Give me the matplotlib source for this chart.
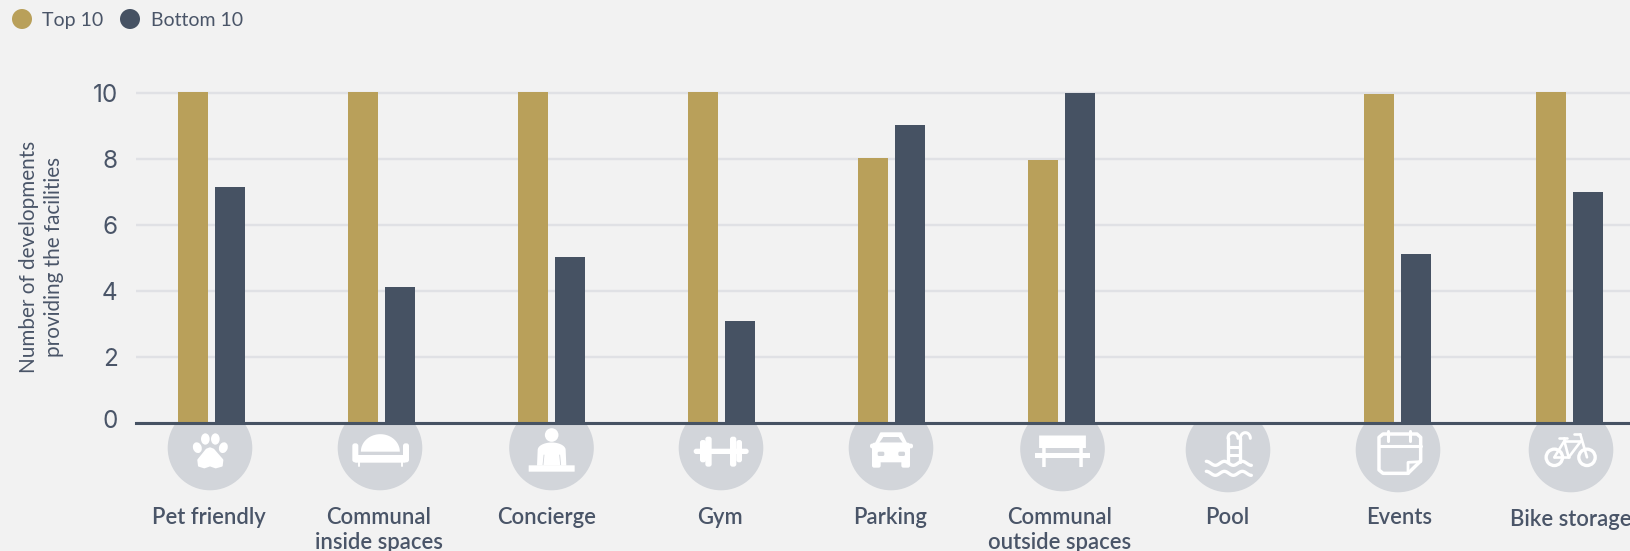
import numpy as np
import matplotlib
matplotlib.use('Agg')
import matplotlib.pyplot as plt
from matplotlib.patches import Circle, Ellipse, FancyBboxPatch, Polygon
from matplotlib.transforms import ScaledTranslation

# Dados do grafico
categorias = ['Pet friendly', 'Communal\ninside spaces', 'Concierge', 'Gym', 'Parking',
              'Communal\noutside spaces', 'Pool', 'Events', 'Bike storage']
top_10 = [10.03, 10.03, 10.03, 10.03, 8.02, 7.96, 0, 9.96, 10.03]
bottom_10 = [7.16, 4.12, 5.02, 3.08, 9.03, 10.0, 0, 5.1, 7.0]
y_ticks = [0, 2, 4, 6, 8, 10]
series_nomes = ['Top 10', 'Bottom 10']

BG = '#f2f2f2'
GOLD = '#b9a05a'
DARK = '#465263'
TXT = '#4a5568'
GRID = '#e0e1e5'
DISCO = '#d2d5da'
W, H = 1631, 551

# posicoes em pixels da referencia
centro_grupo = [211.5, 381.5, 551.5, 722, 891.8, 1061.8, 1231, 1397.8, 1569.8]
centro_disco = [(210, 448), (380, 448), (551.5, 448), (721, 448), (891, 448),
                (1062.5, 449), (1228, 450), (1398, 450), (1571, 450)]
centro_texto = [209, 378.6, 546.6, 719.6, 889.6, 1060, 1227, 1399, 1570.7]
y_texto = [517, 517, 517, 517, 517, 517, 517, 517, 519]

plt.rcParams['font.family'] = ['Lato', 'DejaVu Sans']
fig = plt.figure(figsize=(W / 100, H / 100), dpi=100, facecolor=BG)

# eixo de fundo em pixels (discos, icones, textos)
fundo = fig.add_axes([0, 0, 1, 1], zorder=1)
fundo.set_xlim(0, W)
fundo.set_ylim(H, 0)
fundo.axis('off')

# eixo principal, opaco para cortar o topo dos discos
y0_px, y10_px = 422.5, 93.0
esq_px = 135.7
ymax = 10.6
px_por_unidade = (y0_px - y10_px) / 10
topo_px = y0_px - ymax * px_por_unidade
ax = fig.add_axes([esq_px / W, 1 - y0_px / H, 1 - esq_px / W, (y0_px - topo_px) / H], zorder=2)
ax.set_facecolor(BG)
ax.set_xlim(esq_px, W)
ax.set_ylim(0, ymax)

larg = 30
desl = 18.5
x = np.array(centro_grupo)
ax.bar(x - desl, top_10, larg, color=GOLD, zorder=3)
ax.bar(x + desl, bottom_10, larg, color=DARK, zorder=3)

ax.set_yticks(y_ticks)
ax.set_yticklabels([str(v) for v in y_ticks], fontsize=17.5, color=TXT, family=['Inter', 'DejaVu Sans'])
ax.tick_params(axis='y', length=0, pad=13)
ax.set_xticks([])
ax.grid(axis='y', color=GRID, linewidth=1.7, zorder=1)
ax.set_axisbelow(True)
for lado in ['top', 'right', 'left']:
    ax.spines[lado].set_visible(False)
ax.spines['bottom'].set_color(DARK)
ax.spines['bottom'].set_linewidth(2.2)
ax.spines['bottom'].set_zorder(5)

# o rotulo 0 fica um pouco acima da linha na referencia
rot0 = ax.get_yticklabels()[0]
rot0.set_transform(rot0.get_transform() + ScaledTranslation(0, 3 / 100, fig.dpi_scale_trans))


def caixa(x0, y0, x1, y1, r=1.0, cor='white'):
    fundo.add_patch(FancyBboxPatch((x0 + r, y0 + r), x1 - x0 - 2 * r, y1 - y0 - 2 * r,
                                   boxstyle='round,pad=%f,rounding_size=%f' % (r, r),
                                   fc=cor, ec='none', zorder=3))


def linha(xs, ys, lw=2.2, cor='white'):
    fundo.plot(xs, ys, color=cor, lw=lw, solid_capstyle='round', solid_joinstyle='round', zorder=3)


# icones: coordenadas medidas nos recortes (3x), origem = canto do recorte
def pata(ox, oy):
    for X, Y, w, h, a in [(121, 102, 26, 34, 0), (151, 102, 26, 34, 0), (97, 128, 26, 33, -20), (175, 128, 26, 33, 20)]:
        fundo.add_patch(Ellipse((ox + X / 3, oy + Y / 3), w / 3, h / 3, angle=a, fc='white', ec='none', zorder=3))
    pts = [(135, 130), (125, 134), (100, 165), (102, 182), (118, 187), (135, 181), (152, 187), (170, 182), (172, 165), (145, 134)]
    fundo.add_patch(Polygon([(ox + a / 3, oy + b / 3) for a, b in pts], fc='white', ec='white', lw=1.5, joinstyle='round', zorder=3))


def sofa(ox, oy):
    t = np.linspace(np.pi, 2 * np.pi, 40)
    fundo.add_patch(Polygon(np.c_[ox + 136 / 3 + 19.5 * np.cos(t), oy + 140 / 3 + 17.5 * np.sin(t)], fc='white', ec='none', zorder=3))
    caixa(ox + 52 / 3, oy + 115 / 3, ox + 70 / 3, oy + 172 / 3, 2.5)
    caixa(ox + 204 / 3, oy + 115 / 3, ox + 222 / 3, oy + 172 / 3, 2.5)
    caixa(ox + 60 / 3, oy + 150 / 3, ox + 212 / 3, oy + 173 / 3, 1)
    linha([ox + 73 / 3, ox + 73 / 3], [oy + 172 / 3, oy + 183 / 3], 1.4)
    linha([ox + 200 / 3, ox + 200 / 3], [oy + 172 / 3, oy + 183 / 3], 1.4)


def pessoa(ox, oy):
    fundo.add_patch(Circle((ox + 134 / 3, oy + 90 / 3), 6.8, fc='white', ec='none', zorder=3))
    t = np.linspace(np.pi, 2 * np.pi, 30)
    cima = np.c_[ox + 134 / 3 + 14 * np.cos(t), oy + 135 / 3 + 7.5 * np.sin(t)]
    corpo = np.vstack([[(ox + 90 / 3, oy + 182 / 3)], cima, [(ox + 178 / 3, oy + 182 / 3)]])
    fundo.add_patch(Polygon(corpo, fc='white', ec='none', zorder=3))
    linha([ox + 111 / 3, ox + 108 / 3], [oy + 150 / 3, oy + 180 / 3], 0.6, DISCO)
    linha([ox + 158 / 3, ox + 161 / 3], [oy + 150 / 3, oy + 180 / 3], 0.6, DISCO)
    caixa(ox + 65 / 3, oy + 181 / 3, ox + 203 / 3, oy + 200 / 3, 0.3)


def halter(ox, oy):
    caixa(ox + 53 / 3, oy + 131 / 3, ox + 218 / 3, oy + 147 / 3, 2.6)
    for a, b, c, d in [(88, 107, 95, 185), (72, 90, 105, 172), (162, 181, 95, 185), (181, 198, 105, 172)]:
        caixa(ox + a / 3, oy + c / 3, ox + b / 3, oy + d / 3, 2.5)


def carro(ox, oy):
    pts = [(90, 115), (105, 85), (165, 85), (180, 115)]
    fundo.add_patch(Polygon([(ox + a / 3, oy + b / 3) for a, b in pts], fc='white', ec='white', lw=1.5, joinstyle='round', zorder=3))
    pts = [(100, 113), (112, 96), (158, 96), (170, 113)]
    fundo.add_patch(Polygon([(ox + a / 3, oy + b / 3) for a, b in pts], fc=DISCO, ec='none', zorder=3))
    caixa(ox + 78 / 3, oy + 113 / 3, ox + 192 / 3, oy + 172 / 3, 2.5)
    caixa(ox + 78 / 3, oy + 160 / 3, ox + 104 / 3, oy + 188 / 3, 2)
    caixa(ox + 166 / 3, oy + 160 / 3, ox + 192 / 3, oy + 188 / 3, 2)
    caixa(ox + 72 / 3, oy + 116 / 3, ox + 90 / 3, oy + 130 / 3, 2)
    caixa(ox + 183 / 3, oy + 116 / 3, ox + 201 / 3, oy + 130 / 3, 2)
    caixa(ox + 95 / 3, oy + 140 / 3, ox + 115 / 3, oy + 153 / 3, 1.5, DISCO)
    caixa(ox + 157 / 3, oy + 140 / 3, ox + 177 / 3, oy + 153 / 3, 1.5, DISCO)


def banco(cx, cy):
    caixa(cx - 23.4, cy - 13.5, cx + 23.4, cy - 1, 0.2)
    caixa(cx - 27.5, cy + 4, cx + 27.5, cy + 9, 0.2)
    caixa(cx - 20.3, cy - 2, cx - 16.8, cy + 18, 0.1)
    caixa(cx + 16.8, cy - 2, cx + 20.3, cy + 18, 0.1)


def piscina(ox, oy):
    t = np.linspace(0, np.pi, 20)
    for xr in [135, 172]:
        xs = ox + (xr + 15 + 15 * np.cos(t + np.pi)) / 3
        ys = oy + (100 + 17 * np.sin(t + np.pi)) / 3
        linha(xs, ys, 2.2)
        linha([ox + xr / 3, ox + xr / 3], [oy + 100 / 3, oy + 170 / 3], 2.4)
    linha([ox + 135 / 3, ox + 172 / 3], [oy + 125 / 3, oy + 125 / 3], 2.2)
    linha([ox + 135 / 3, ox + 172 / 3], [oy + 150 / 3, oy + 150 / 3], 2.2)
    xo = np.linspace(70, 205, 60)
    for y_o in [175, 205]:
        linha(ox + xo / 3, oy + (y_o + 6 * np.cos((xo - 70) / 135 * 2 * np.pi * 2.5 + np.pi)) / 3, 2.4)


def calendario(ox, oy):
    pts = [(165, 205), (90, 205), (78, 195), (78, 97), (90, 87), (192, 87), (203, 97), (203, 168), (165, 205)]
    linha([ox + a / 3 for a, b in pts], [oy + b / 3 for a, b in pts], 2.5)
    linha([ox + 78 / 3, ox + 203 / 3], [oy + 122 / 3, oy + 122 / 3], 2.2)
    linha([ox + 105 / 3, ox + 105 / 3], [oy + 78 / 3, oy + 108 / 3], 2.2)
    linha([ox + 172 / 3, ox + 172 / 3], [oy + 78 / 3, oy + 108 / 3], 2.2)
    linha([ox + 165 / 3, ox + 165 / 3, ox + 203 / 3], [oy + 205 / 3, oy + 172 / 3, oy + 170 / 3], 2.0)


def bicicleta(ox, oy):
    for X in [85, 183]:
        fundo.add_patch(Circle((ox + X / 3, oy + 157 / 3), 8.2, fc='none', ec='white', lw=2.4, zorder=3))
    segs = [((85, 157), (115, 108)), ((115, 108), (165, 108)), ((85, 157), (128, 157)), ((128, 157), (165, 108)),
            ((115, 108), (128, 157)), ((98, 100), (124, 100)), ((115, 100), (118, 110)), ((143, 88), (163, 88)),
            ((163, 88), (183, 157))]
    for (a, b), (c, d) in segs:
        linha([ox + a / 3, ox + c / 3], [oy + b / 3, oy + d / 3], 1.9)


for (cx, cy) in centro_disco:
    fundo.add_patch(Circle((cx, cy), 42.3, fc=DISCO, ec='none', zorder=2))

pata(165, 405)
sofa(335, 405)
pessoa(507, 405)
halter(676, 405)
carro(846, 405)
banco(1062.5, 449)
piscina(1183, 405)
calendario(1353, 405)
bicicleta(1526, 405)

for nome, xt, yt in zip(categorias, centro_texto, y_texto):
    for i, p in enumerate(nome.split('\n')):
        fundo.text(xt, yt + i * 25.5, p, ha='center', va='center', fontsize=15.8, color=TXT, fontweight='semibold')

# legenda
fundo.add_patch(Circle((22, 19), 10, fc=GOLD, ec='none'))
fundo.add_patch(Circle((130, 19), 10, fc=DARK, ec='none'))
fundo.text(42, 20.5, series_nomes[0], ha='left', va='center', fontsize=14, color=TXT)
fundo.text(151, 20.5, series_nomes[1], ha='left', va='center', fontsize=14, color=TXT)

# titulo do eixo y
fundo.text(29, 257, 'Number of developments', rotation=90, ha='center', va='center', fontsize=14.9, color=TXT)
fundo.text(54, 257, 'providing the facilities', rotation=90, ha='center', va='center', fontsize=14.9, color=TXT)

fig.savefig('out.png', dpi=100, facecolor=BG)
